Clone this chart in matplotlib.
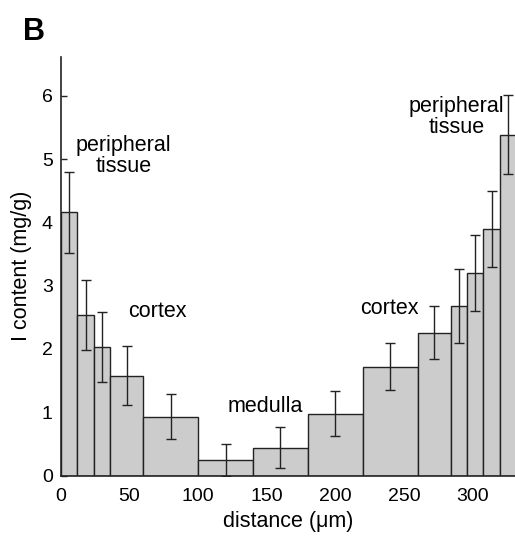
import matplotlib
matplotlib.use("Agg")
import matplotlib.pyplot as plt
import numpy as np

plt.rcParams['font.family'] = ['Liberation Sans', 'DejaVu Sans']

# bin edges along distance (um)
bin_edges = [0, 12, 24, 36, 60, 100, 140, 180, 220, 260, 284, 296, 308, 320, 332]
# I content (mg/g) per bin
iodine = [4.16, 2.54, 2.03, 1.58, 0.93, 0.25, 0.44, 0.98, 1.72, 2.26, 2.68, 3.20, 3.89, 5.39]
# error bar half-widths
err = [0.64, 0.55, 0.55, 0.46, 0.36, 0.25, 0.32, 0.35, 0.37, 0.42, 0.59, 0.60, 0.60, 0.63]

x_ticks = [0, 50, 100, 150, 200, 250, 300]
y_ticks = [0, 1, 2, 3, 4, 5, 6]

fig = plt.figure(figsize=(5.15, 5.38), dpi=100)
ax = fig.add_axes([61/515, (538-475.5)/538, 1 - 61/515, (475.5-56.7)/538])

edges = np.array(bin_edges, dtype=float)
lefts = edges[:-1]
widths = np.diff(edges)
centers = lefts + widths / 2

ax.bar(lefts, iodine, width=widths, align='edge', color='#cccccc',
       edgecolor='#222222', linewidth=1.0, zorder=2)
ax.errorbar(centers, iodine, yerr=err, fmt='none', ecolor='#222222',
            elinewidth=1.0, capsize=3.5, capthick=1.0, zorder=3)

ax.set_xlim(0, 331)
ax.set_ylim(0, 6.62)
ax.set_xticks(x_ticks)
ax.set_yticks(y_ticks)
ax.tick_params(axis='both', labelsize=14, direction='in', length=4, width=1,
               colors='#222222', labelcolor='black')
ax.tick_params(axis='x', pad=9, length=0)
ax.tick_params(axis='y', pad=6)
for s in ['top', 'right']:
    ax.spines[s].set_visible(False)
for s in ['left', 'bottom']:
    ax.spines[s].set_linewidth(1.2)
    ax.spines[s].set_color('#222222')

ax.set_xlabel('distance (\u03bcm)', fontsize=15.5, labelpad=4)
ax.set_ylabel('I content (mg/g)', fontsize=15.5, labelpad=7)

kw = dict(fontsize=15.5, ha='center', va='center', linespacing=1.0)
ax.text(45.4, 5.05, 'peripheral\ntissue', **kw)
ax.text(70.6, 2.59, 'cortex', **kw)
ax.text(148.6, 1.09, 'medulla', **kw)
ax.text(239.5, 2.64, 'cortex', **kw)
ax.text(288.2, 5.66, 'peripheral\ntissue', **kw)

fig.text(23/515, 1 - 32/538, 'B', fontsize=22, fontweight='bold', ha='left', va='center')

fig.savefig('out.png', dpi=100)
